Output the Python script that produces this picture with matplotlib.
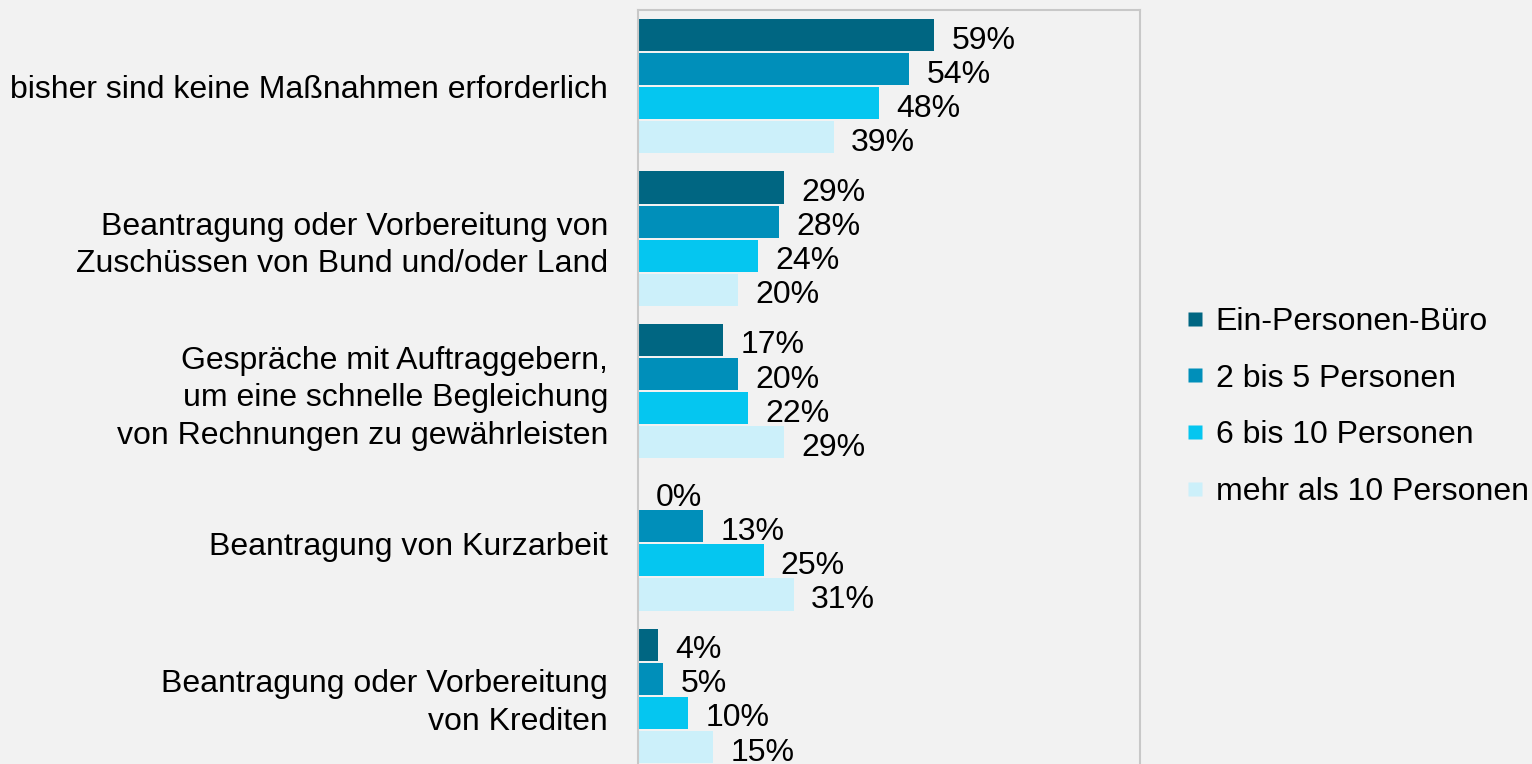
import matplotlib
matplotlib.use("Agg")
import matplotlib.pyplot as plt
from matplotlib.lines import Line2D
import numpy as np

plt.rcParams['font.family'] = ['Liberation Sans', 'DejaVu Sans']

categories = [
    "bisher sind keine Maßnahmen erforderlich",
    "Beantragung oder Vorbereitung von\nZuschüssen von Bund und/oder Land",
    "Gespräche mit Auftraggebern,\num eine schnelle Begleichung\nvon Rechnungen zu gewährleisten",
    "Beantragung von Kurzarbeit",
    "Beantragung oder Vorbereitung\nvon Krediten",
]
series_names = ["Ein-Personen-Büro", "2 bis 5 Personen", "6 bis 10 Personen", "mehr als 10 Personen"]
ein_personen = [59, 29, 17, 0, 4]
zwei_bis_fuenf = [54, 28, 20, 13, 5]
sechs_bis_zehn = [48, 24, 22, 25, 10]
mehr_als_zehn = [39, 20, 29, 31, 15]
series_values = [ein_personen, zwei_bis_fuenf, sechs_bis_zehn, mehr_als_zehn]
colors = ["#006682", "#008fba", "#05c6f0", "#ccf0fa"]

bg = "#f2f2f2"
fs = 23
fig = plt.figure(figsize=(15.32, 7.64), dpi=100, facecolor=bg)
ax = fig.add_axes([638/1532, -8/764, 502/1532, 762/764], facecolor=bg)

n = len(categories)
y = np.arange(n)
step = 34/152
h = 32/152
for i, (vals, col) in enumerate(zip(series_values, colors)):
    pos = y + (i - 1.5) * step
    ax.barh(pos, vals, height=h, color=col, edgecolor="none")
    for p, v in zip(pos, vals):
        ax.annotate(f"{v}%", xy=(v, p), xytext=(12.5, -9.8), textcoords="offset points",
                    va="baseline", ha="left", fontsize=fs, color="#000000")

ax.set_ylim(n - 0.5, -0.5)
ax.set_xlim(0, 100)
ax.set_yticks(y)
ax.set_yticklabels(categories, fontsize=fs, linespacing=1.32)
ax.tick_params(axis="y", length=0, pad=21.6)
ax.set_xticks([])
for s in ax.spines.values():
    s.set_color("#c8c8c8")
    s.set_linewidth(1.5)

handles = [Line2D([], [], marker="s", linestyle="none", markersize=10,
                  markerfacecolor=c, markeredgecolor="none") for c in colors]
fig.legend(handles, series_names, loc="center left", bbox_to_anchor=(1187/1532, 1 - 407/764),
           frameon=False, fontsize=fs, handlelength=0.5, handletextpad=0.4,
           labelspacing=0.84, borderaxespad=0, borderpad=0)

fig.savefig("out.png", dpi=100, facecolor=bg)
